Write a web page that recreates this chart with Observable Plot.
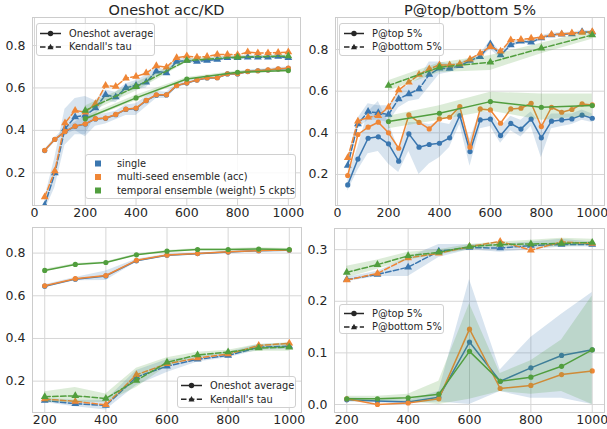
<!DOCTYPE html>
<html><head><meta charset="utf-8">
<script src="https://cdn.jsdelivr.net/npm/d3@7"></script>
<script src="https://cdn.jsdelivr.net/npm/@observablehq/plot@0.6"></script>
<style>
body{margin:0;background:#fff;font-family:"DejaVu Sans",sans-serif;}
#fig{position:relative;width:607px;height:429px;overflow:hidden;background:#fff;}
.leg{position:absolute;box-sizing:border-box;background:rgba(255,255,255,0.85);border:1px solid #d0d0d0;border-radius:3px;}
.leg svg{position:absolute;left:0;top:0;overflow:visible;}
</style></head><body><div id="fig"></div>
<script>
// ---------- data ----------
const x40 = [40,80,120,160,200,240,280,320,360,400,440,480,520,560,600,640,680,720,760,800,840,880,920,960,1000];
const x200 = [200,400,600,800,1000];
const x100 = [200,300,400,500,600,700,800,900,1000];

// Panel 1: Oneshot acc / Kendall's tau
const p1SingleAcc = [0.305,0.357,0.394,0.419,0.430,0.454,0.457,0.474,0.499,0.503,0.540,0.566,0.567,0.611,0.623,0.637,0.647,0.648,0.666,0.666,0.677,0.681,0.684,0.689,0.692];
const p1SingleAccLo = [0.300,0.350,0.380,0.400,0.370,0.420,0.430,0.450,0.470,0.470,0.510,0.550,0.550,0.600,0.615,0.630,0.640,0.640,0.660,0.660,0.670,0.675,0.678,0.683,0.686];
const p1SingleAccHi = [0.310,0.365,0.410,0.440,0.470,0.470,0.480,0.490,0.520,0.525,0.560,0.585,0.580,0.620,0.632,0.645,0.655,0.656,0.673,0.673,0.684,0.688,0.691,0.696,0.699];
const p1MultiAcc = [0.306,0.358,0.395,0.420,0.431,0.455,0.458,0.475,0.500,0.505,0.541,0.568,0.568,0.612,0.624,0.638,0.648,0.648,0.667,0.667,0.678,0.681,0.685,0.690,0.693];
const p1SingleTau = [0.047,0.199,0.408,0.463,0.471,0.505,0.568,0.557,0.601,0.612,0.627,0.679,0.671,0.725,0.729,0.725,0.729,0.734,0.742,0.742,0.745,0.745,0.745,0.748,0.742];
const p1SingleTauLo = [0.020,0.130,0.330,0.380,0.380,0.470,0.540,0.530,0.580,0.590,0.600,0.660,0.660,0.710,0.720,0.715,0.720,0.725,0.735,0.735,0.738,0.738,0.738,0.740,0.733];
const p1SingleTauHi = [0.080,0.270,0.500,0.550,0.560,0.540,0.590,0.580,0.620,0.635,0.660,0.695,0.685,0.740,0.740,0.735,0.738,0.743,0.750,0.750,0.752,0.752,0.752,0.756,0.750];
const p1MultiTau = [0.086,0.209,0.435,0.494,0.486,0.525,0.612,0.607,0.646,0.654,0.670,0.704,0.698,0.742,0.750,0.745,0.748,0.758,0.758,0.756,0.769,0.765,0.765,0.767,0.769];
const p1TempAcc = [0.455,0.553,0.642,0.674,0.682];
const p1TempAccLo = [0.445,0.540,0.635,0.667,0.676];
const p1TempAccHi = [0.465,0.565,0.649,0.680,0.688];
const p1TempTau = [0.494,0.606,0.729,0.745,0.750];
const p1TempTauLo = [0.475,0.585,0.720,0.740,0.745];
const p1TempTauHi = [0.515,0.625,0.738,0.750,0.755];

// Panel 2: P@top / P@bottom 5%
const p2SingleTop = [0.150,0.274,0.374,0.381,0.347,0.264,0.395,0.331,0.344,0.350,0.376,0.483,0.310,0.462,0.466,0.387,0.445,0.418,0.466,0.376,0.456,0.462,0.467,0.485,0.470];
const p2SingleTopLo = [0.120,0.220,0.300,0.310,0.250,0.210,0.310,0.200,0.250,0.280,0.330,0.440,0.240,0.420,0.430,0.350,0.410,0.380,0.430,0.280,0.420,0.430,0.440,0.460,0.450];
const p2SingleTopHi = [0.190,0.330,0.500,0.550,0.450,0.320,0.450,0.450,0.440,0.450,0.440,0.520,0.370,0.500,0.500,0.430,0.480,0.460,0.500,0.440,0.490,0.490,0.490,0.510,0.490];
const p2MultiTop = [0.195,0.392,0.427,0.451,0.400,0.326,0.486,0.450,0.419,0.467,0.475,0.526,0.331,0.515,0.510,0.446,0.515,0.518,0.542,0.430,0.523,0.499,0.512,0.539,0.534];
const p2SingleBot = [0.243,0.443,0.502,0.496,0.488,0.563,0.587,0.611,0.680,0.710,0.709,0.722,0.747,0.766,0.827,0.774,0.822,0.840,0.835,0.856,0.870,0.874,0.875,0.885,0.883];
const p2SingleBotLo = [0.220,0.420,0.460,0.460,0.450,0.520,0.550,0.560,0.620,0.680,0.690,0.710,0.735,0.755,0.800,0.760,0.810,0.830,0.825,0.845,0.862,0.866,0.868,0.878,0.876];
const p2SingleBotHi = [0.270,0.470,0.540,0.530,0.530,0.600,0.630,0.660,0.740,0.740,0.730,0.735,0.760,0.778,0.845,0.790,0.835,0.850,0.845,0.866,0.878,0.882,0.883,0.892,0.890];
const p2MultiBot = [0.280,0.456,0.475,0.482,0.523,0.606,0.643,0.680,0.707,0.726,0.726,0.731,0.754,0.782,0.814,0.792,0.846,0.848,0.854,0.859,0.872,0.875,0.880,0.882,0.886];
const p2TempTop = [0.454,0.494,0.550,0.523,0.531];
const p2TempTopLo = [0.420,0.460,0.505,0.460,0.480];
const p2TempTopHi = [0.480,0.530,0.595,0.587,0.587];
const p2TempBot = [0.627,0.715,0.739,0.806,0.870];
const p2TempBotLo = [0.600,0.690,0.700,0.780,0.850];
const p2TempBotHi = [0.650,0.735,0.771,0.830,0.890];

// Panel 3: Oneshot acc / Kendall's tau (x = 200..1000)
const p3SingleAcc = [0.645,0.678,0.693,0.764,0.790,0.797,0.805,0.811,0.813];
const p3SingleAccLo = [0.638,0.670,0.672,0.757,0.785,0.793,0.801,0.807,0.809];
const p3SingleAccHi = [0.652,0.686,0.716,0.771,0.795,0.801,0.809,0.815,0.817];
const p3MultiAcc = [0.647,0.680,0.695,0.766,0.791,0.798,0.806,0.812,0.814];
const p3TempAcc = [0.719,0.747,0.756,0.792,0.809,0.817,0.817,0.819,0.817];
const p3TempAccLo = [0.714,0.743,0.752,0.788,0.806,0.812,0.812,0.813,0.812];
const p3TempAccHi = [0.724,0.751,0.760,0.796,0.812,0.822,0.822,0.825,0.822];
const p3SingleTau = [0.109,0.094,0.086,0.219,0.270,0.302,0.320,0.359,0.364];
const p3SingleTauLo = [0.100,0.080,0.065,0.180,0.240,0.290,0.310,0.345,0.350];
const p3SingleTauHi = [0.120,0.110,0.110,0.250,0.300,0.315,0.335,0.372,0.378];
const p3MultiTau = [0.116,0.105,0.089,0.230,0.281,0.308,0.327,0.367,0.377];
const p3TempTau = [0.127,0.131,0.119,0.203,0.288,0.323,0.336,0.355,0.359];
const p3TempTauLo = [0.100,0.100,0.100,0.170,0.270,0.310,0.325,0.340,0.340];
const p3TempTauHi = [0.150,0.170,0.140,0.260,0.310,0.335,0.345,0.372,0.380];

// Panel 4: P@top / P@bottom 5% (x = 200..1000)
const p4SingleBot = [0.242,0.252,0.266,0.297,0.304,0.303,0.308,0.310,0.310];
const p4SingleBotLo = [0.238,0.248,0.248,0.285,0.300,0.295,0.300,0.305,0.305];
const p4SingleBotHi = [0.246,0.258,0.285,0.310,0.310,0.310,0.315,0.320,0.315];
const p4MultiBot = [0.241,0.254,0.284,0.293,0.306,0.316,0.299,0.315,0.312];
const p4TempBot = [0.256,0.271,0.288,0.295,0.306,0.310,0.311,0.312,0.314];
const p4TempBotLo = [0.245,0.262,0.280,0.290,0.300,0.305,0.305,0.305,0.308];
const p4TempBotHi = [0.268,0.280,0.295,0.300,0.310,0.315,0.318,0.322,0.320];
const p4SingleTop = [0.009,0.007,0.005,0.014,0.121,0.045,0.071,0.095,0.106];
const p4SingleTopLo = [0.005,0.003,0.002,0.005,0.000,0.025,0.012,0.012,0.000];
const p4SingleTopHi = [0.013,0.011,0.008,0.025,0.242,0.067,0.130,0.175,0.217];
const p4MultiTop = [0.011,0.000,0.003,0.011,0.146,0.031,0.037,0.058,0.065];
const p4TempTop = [0.011,0.011,0.013,0.020,0.103,0.045,0.053,0.074,0.106];
const p4TempTopLo = [0.006,0.006,0.006,0.000,0.010,0.025,0.020,0.025,0.000];
const p4TempTopHi = [0.016,0.016,0.020,0.045,0.195,0.060,0.085,0.125,0.210];

// ticks & labels
const xTicksTop = [0,200,400,600,800,1000];
const xTicksBottom = [200,400,600,800,1000];
const yTicksAcc = [0.2,0.4,0.6,0.8];
const yTicksP = [0.0,0.1,0.2,0.3];
const titles = ["Oneshot acc/KD", "P@top/bottom 5%"];
const methodLabels = ["single", "multi-seed ensemble (acc)", "temporal ensemble (weight) 5 ckpts"];
const styleLabels1 = ["Oneshot average", "Kendall's tau"];
const styleLabels2 = ["P@top 5%", "P@bottom 5%"];

// ---------- drawing ----------
const BLUE = "#3a76af", ORANGE = "#ef8636", GREEN = "#519e3e";
const GRID = "#d6d6d6", TEXT = "#262626";
const DASH = "5.5,2.4";
const fig = document.getElementById("fig");

function rows(x, y, lo, hi) {
  return x.map((xi, i) => ({x: xi, y: y[i], lo: lo ? lo[i] : null, hi: hi ? hi[i] : null}));
}

function panel(cfg) {
  const marks = [
    Plot.ruleX(cfg.xTicks, {stroke: GRID, strokeWidth: 1}),
    Plot.ruleY(cfg.yTicks, {stroke: GRID, strokeWidth: 1})
  ];
  for (const s of cfg.series) {
    const data = rows(s.x, s.y, s.lo, s.hi);
    if (s.lo) marks.push(Plot.areaY(data, {x: "x", y1: "lo", y2: "hi", fill: s.color, fillOpacity: 0.2, clip: true}));
    marks.push(Plot.line(data, {x: "x", y: "y", stroke: s.color, strokeWidth: 1.5, strokeDasharray: s.dashed ? DASH : null, clip: true}));
    marks.push(Plot.dot(data, {x: "x", y: "y", r: s.dashed ? 2.9 : 2.6, fill: s.color, symbol: s.dashed ? "triangle" : "circle", clip: true}));
  }
  marks.push(Plot.frame({stroke: "#cccccc", strokeWidth: 1}));
  if (cfg.title) marks.push(Plot.text([cfg.title], {frameAnchor: "top", dy: -2.5, lineAnchor: "bottom", fontSize: 14.5, fill: TEXT}));
  const svg = Plot.plot({
    width: cfg.width, height: cfg.height,
    marginLeft: cfg.ml, marginRight: cfg.mr, marginTop: cfg.mt, marginBottom: cfg.mb,
    x: {domain: cfg.xDomain, ticks: cfg.xTicks, tickSize: 0, tickPadding: 3, tickFormat: d => String(d), label: null},
    y: {domain: cfg.yDomain, ticks: cfg.yTicks, tickSize: 0, tickPadding: 7, tickFormat: cfg.yFmt, label: null},
    style: {fontSize: "12.5px", fontFamily: "DejaVu Sans, sans-serif", color: TEXT, background: "transparent", overflow: "visible"},
    marks
  });
  svg.style.position = "absolute";
  svg.style.left = cfg.left + "px";
  svg.style.top = cfg.top + "px";
  svg.style.maxWidth = "none";
  fig.appendChild(svg);
}

const f1 = d3.format(".1f");

panel({left: 0, top: 0, width: 303, height: 222, ml: 32, mr: 3, mt: 17, mb: 17,
  xDomain: [-8, 1048], yDomain: [0.046, 0.932], xTicks: xTicksTop, yTicks: yTicksAcc, yFmt: f1, title: titles[0],
  series: [
    {x: x40, y: p1SingleAcc, lo: p1SingleAccLo, hi: p1SingleAccHi, color: BLUE},
    {x: x40, y: p1SingleTau, lo: p1SingleTauLo, hi: p1SingleTauHi, color: BLUE, dashed: true},
    {x: x40, y: p1MultiAcc, color: ORANGE},
    {x: x40, y: p1MultiTau, color: ORANGE, dashed: true},
    {x: x200, y: p1TempAcc, lo: p1TempAccLo, hi: p1TempAccHi, color: GREEN},
    {x: x200, y: p1TempTau, lo: p1TempTauLo, hi: p1TempTauHi, color: GREEN, dashed: true}
  ]});

panel({left: 303, top: 0, width: 304, height: 222, ml: 32, mr: 3, mt: 17, mb: 17,
  xDomain: [-8, 1048], yDomain: [0.051, 0.954], xTicks: xTicksTop, yTicks: yTicksAcc, yFmt: f1, title: titles[1],
  series: [
    {x: x40, y: p2SingleTop, lo: p2SingleTopLo, hi: p2SingleTopHi, color: BLUE},
    {x: x40, y: p2SingleBot, lo: p2SingleBotLo, hi: p2SingleBotHi, color: BLUE, dashed: true},
    {x: x40, y: p2MultiTop, color: ORANGE},
    {x: x40, y: p2MultiBot, color: ORANGE, dashed: true},
    {x: x200, y: p2TempTop, lo: p2TempTopLo, hi: p2TempTopHi, color: GREEN},
    {x: x200, y: p2TempBot, lo: p2TempBotLo, hi: p2TempBotHi, color: GREEN, dashed: true}
  ]});

panel({left: 0, top: 215, width: 303, height: 214, ml: 32, mr: 2, mt: 12, mb: 17,
  xDomain: [160, 1040], yDomain: [0.053, 0.920], xTicks: xTicksBottom, yTicks: yTicksAcc, yFmt: f1,
  series: [
    {x: x100, y: p3SingleAcc, lo: p3SingleAccLo, hi: p3SingleAccHi, color: BLUE},
    {x: x100, y: p3SingleTau, lo: p3SingleTauLo, hi: p3SingleTauHi, color: BLUE, dashed: true},
    {x: x100, y: p3MultiAcc, color: ORANGE},
    {x: x100, y: p3MultiTau, color: ORANGE, dashed: true},
    {x: x100, y: p3TempAcc, lo: p3TempAccLo, hi: p3TempAccHi, color: GREEN},
    {x: x100, y: p3TempTau, lo: p3TempTauLo, hi: p3TempTauHi, color: GREEN, dashed: true}
  ]});

panel({left: 303, top: 215, width: 304, height: 214, ml: 31, mr: 3, mt: 13, mb: 17,
  xDomain: [160, 1040], yDomain: [-0.0155, 0.341], xTicks: xTicksBottom, yTicks: yTicksP, yFmt: f1,
  series: [
    {x: x100, y: p4SingleTop, lo: p4SingleTopLo, hi: p4SingleTopHi, color: BLUE},
    {x: x100, y: p4SingleBot, lo: p4SingleBotLo, hi: p4SingleBotHi, color: BLUE, dashed: true},
    {x: x100, y: p4MultiTop, color: ORANGE},
    {x: x100, y: p4MultiBot, color: ORANGE, dashed: true},
    {x: x100, y: p4TempTop, lo: p4TempTopLo, hi: p4TempTopHi, color: GREEN},
    {x: x100, y: p4TempBot, lo: p4TempBotLo, hi: p4TempBotHi, color: GREEN, dashed: true}
  ]});

// ---------- legends ----------
const LEGC = "#262626";
function triPath(cx, cy, s) {
  return `M${cx},${cy - s}L${cx + s * 0.95},${cy + s * 0.7}L${cx - s * 0.95},${cy + s * 0.7}Z`;
}
function styleLegend(left, top, w, h, labels, rowsY, textX, lineX0, lineX1) {
  const d = document.createElement("div");
  d.className = "leg";
  Object.assign(d.style, {left: left + "px", top: top + "px", width: w + "px", height: h + "px"});
  const mx = (lineX0 + lineX1) / 2;
  let s = `<svg width="${w}" height="${h}" font-family="DejaVu Sans, sans-serif" font-size="9.8">`;
  s += `<line x1="${lineX0}" x2="${lineX1}" y1="${rowsY[0]}" y2="${rowsY[0]}" stroke="${LEGC}" stroke-width="1.5"/>`;
  s += `<circle cx="${mx}" cy="${rowsY[0]}" r="2.7" fill="${LEGC}"/>`;
  s += `<line x1="${lineX0}" x2="${lineX1}" y1="${rowsY[1]}" y2="${rowsY[1]}" stroke="${LEGC}" stroke-width="1.5" stroke-dasharray="${DASH}"/>`;
  s += `<path d="${triPath(mx, rowsY[1], 3.2)}" fill="${LEGC}"/>`;
  labels.forEach((t, i) => {
    s += `<text x="${textX}" y="${rowsY[i]}" dy="0.35em" fill="${LEGC}">${t}</text>`;
  });
  s += `</svg>`;
  d.innerHTML = s;
  fig.appendChild(d);
}
function methodLegend(left, top, w, h, labels, colors, rowsY, sqX, textX) {
  const d = document.createElement("div");
  d.className = "leg";
  Object.assign(d.style, {left: left + "px", top: top + "px", width: w + "px", height: h + "px"});
  let s = `<svg width="${w}" height="${h}" font-family="DejaVu Sans, sans-serif" font-size="9.8">`;
  labels.forEach((t, i) => {
    s += `<rect x="${sqX - 3}" y="${rowsY[i] - 3}" width="6" height="6" fill="${colors[i]}"/>`;
    s += `<text x="${textX}" y="${rowsY[i]}" dy="0.35em" fill="${LEGC}">${t}</text>`;
  });
  s += `</svg>`;
  d.innerHTML = s;
  fig.appendChild(d);
}

styleLegend(36, 23, 119, 33, styleLabels1, [9.5, 23], 32, 3, 24);
methodLegend(85, 154, 211, 45, methodLabels, [BLUE, ORANGE, GREEN], [8.5, 22, 35.5], 12, 31);
styleLegend(339, 23, 105, 33, styleLabels2, [9.5, 23], 32, 4, 24);
styleLegend(177, 376, 119, 32, styleLabels1, [8.5, 22.3], 32, 3, 24);
styleLegend(339, 304, 105, 30, styleLabels2, [8.5, 22], 32, 4, 24);
</script>
</body></html>
